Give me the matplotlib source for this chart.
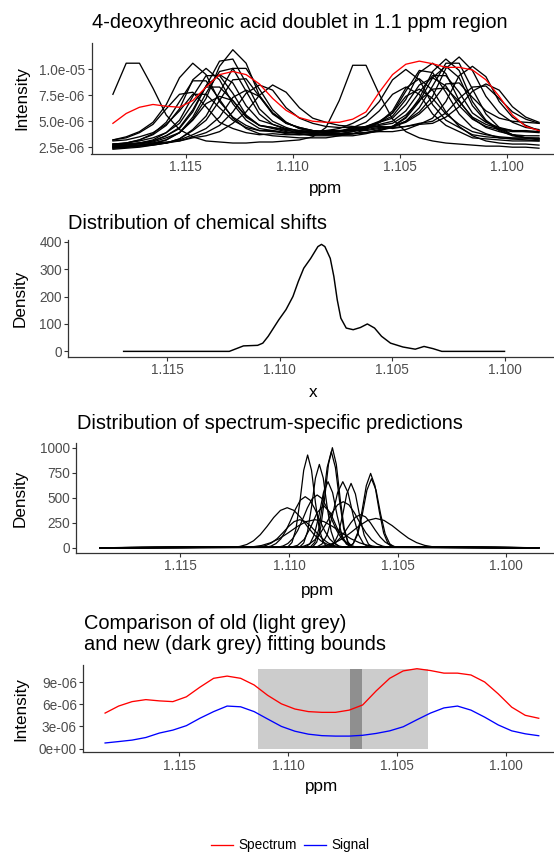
import matplotlib
matplotlib.use("Agg")
import matplotlib.pyplot as plt
from matplotlib.lines import Line2D

plt.rcParams['font.family'] = ['Liberation Sans', 'DejaVu Sans']

# ---------------- data ----------------
# spectral grid (ppm) shared by panel 1 and panel 4
ppm = [1.11840, 1.11778, 1.11716, 1.11653, 1.11591, 1.11529, 1.11467, 1.11405,
       1.11342, 1.11280, 1.11218, 1.11156, 1.11094, 1.11031, 1.10969, 1.10907,
       1.10845, 1.10783, 1.10720, 1.10658, 1.10596, 1.10534, 1.10472, 1.10409,
       1.10347, 1.10285, 1.10223, 1.10161, 1.10098, 1.10036, 1.09974, 1.09912,
       1.09850]
intensity_unit = 1e-6

# red spectrum (x 1e-6)
spectrum = [4.8, 5.75, 6.35, 6.62, 6.45, 6.35, 7.0, 8.3, 9.5, 9.8, 9.5, 8.6, 7.2,
            6.05, 5.35, 5.0, 4.9, 4.9, 5.2, 5.9, 7.8, 9.5, 10.5, 10.8, 10.55, 10.2,
            10.2, 9.95, 9.0, 7.4, 5.6, 4.5, 4.1]
# blue fitted signal (x 1e-6)
signal = [0.76, 0.95, 1.15, 1.5, 2.1, 2.5, 3.1, 4.1, 5.0, 5.75, 5.65, 5.0, 4.0,
          3.0, 2.35, 1.95, 1.75, 1.69, 1.69, 1.8, 2.05, 2.4, 2.95, 3.9, 4.8, 5.5,
          5.75, 5.2, 4.25, 3.2, 2.4, 2.0, 1.74]

# other spectra in the 1.1 ppm region (x 1e-6)
spec_a = [7.6, 10.6, 10.6, 8.2, 5.6, 4.2, 3.5, 3.1, 3.0, 2.9, 2.9, 3.0, 3.0, 3.1, 3.2, 3.5, 4.4, 7.0, 10.4, 10.4, 7.6, 5.2, 4.0, 3.4, 3.1, 2.9, 2.8, 2.7, 2.6, 2.6, 2.5, 2.5, 2.4]
spec_b = [2.5, 2.6, 2.7, 2.9, 3.2, 3.9, 5.2, 7.2, 10.3, 11.9, 10.6, 7.5, 5.8, 4.9, 4.3, 4.0, 3.8, 3.8, 3.8, 3.9, 4.1, 4.4, 5.0, 6.3, 8.4, 10.6, 10.6, 8.1, 5.7, 4.4, 3.7, 3.4, 3.2]
spec_c = [2.7, 2.8, 2.9, 3.1, 3.6, 4.3, 5.9, 8.4, 10.8, 11.0, 8.7, 6.2, 5.0, 4.4, 4.0, 3.8, 3.7, 3.7, 3.8, 3.9, 4.2, 4.5, 5.3, 6.9, 9.2, 10.3, 9.2, 6.5, 5.0, 4.1, 3.6, 3.4, 3.3]
spec_d = [3.2, 3.5, 4.0, 4.9, 6.6, 9.2, 10.6, 9.5, 6.9, 5.4, 4.6, 4.1, 4.1, 3.9, 3.9, 3.9, 4.1, 4.3, 4.8, 5.5, 6.9, 9.0, 10.0, 9.0, 6.6, 5.1, 4.4, 3.7, 3.5, 3.4, 3.3, 3.3, 3.3]
spec_e = [2.8, 2.9, 3.2, 3.7, 4.6, 6.2, 9.0, 10.1, 9.0, 6.7, 5.1, 4.3, 4.1, 3.8, 3.7, 3.7, 3.7, 3.8, 4.0, 4.4, 4.9, 5.8, 7.9, 9.9, 9.7, 7.8, 5.7, 4.4, 3.8, 3.4, 3.3, 3.2, 3.1]
spec_f = [2.5, 2.7, 2.9, 3.2, 3.9, 5.1, 7.4, 9.4, 9.4, 7.7, 5.6, 4.6, 4.3, 4.0, 3.8, 3.7, 3.8, 3.8, 4.0, 4.3, 4.9, 5.5, 7.1, 9.7, 10.6, 9.6, 7.0, 5.3, 4.4, 4.0, 3.7, 3.6, 3.6]
spec_g = [2.6, 2.7, 2.9, 3.1, 3.6, 4.4, 6.1, 8.4, 9.5, 8.7, 6.5, 5.1, 4.7, 4.3, 4.1, 4.0, 4.0, 4.0, 4.2, 4.4, 4.7, 5.0, 6.0, 7.8, 9.4, 9.4, 7.8, 5.8, 4.9, 4.4, 4.1, 4.0, 4.0]
spec_h = [2.3, 2.4, 2.5, 2.7, 2.9, 3.3, 4.2, 5.5, 7.8, 10.1, 10.1, 8.1, 6.1, 4.9, 4.3, 4.1, 3.9, 3.8, 3.8, 3.9, 4.0, 4.0, 4.2, 4.7, 5.3, 6.9, 9.4, 10.3, 9.3, 6.9, 5.4, 4.6, 4.1]
spec_i = [3.2, 3.4, 3.9, 4.7, 6.2, 7.6, 7.8, 6.4, 4.9, 4.3, 3.9, 3.7, 3.8, 3.7, 3.7, 3.8, 3.9, 4.0, 4.4, 4.9, 6.0, 7.6, 8.3, 7.6, 5.7, 4.6, 4.0, 3.4, 3.3, 3.2, 3.1, 3.1, 3.1]
spec_j = [3.1, 3.2, 3.5, 3.9, 4.7, 6.0, 7.6, 7.6, 6.3, 5.1, 4.4, 4.1, 4.0, 3.9, 3.9, 3.9, 3.9, 4.0, 4.2, 4.5, 5.0, 5.8, 7.4, 8.1, 7.2, 5.7, 4.7, 4.0, 3.7, 3.5, 3.4, 3.4, 3.4]
spec_k = [2.6, 2.6, 2.7, 2.8, 2.9, 3.1, 3.5, 3.9, 4.6, 5.9, 7.7, 8.5, 8.0, 6.3, 5.3, 4.8, 4.5, 4.4, 4.4, 4.4, 4.5, 4.4, 4.5, 4.8, 5.0, 5.8, 7.2, 8.3, 8.4, 7.2, 5.9, 5.2, 4.8]
spec_l = [2.8, 2.9, 3.1, 3.4, 3.9, 4.8, 6.7, 8.3, 8.3, 7.0, 5.4, 4.6, 4.4, 4.2, 4.1, 4.0, 4.1, 4.1, 4.3, 4.5, 4.9, 5.3, 6.6, 8.5, 9.2, 8.4, 6.5, 5.2, 4.5, 4.2, 4.0, 4.0, 3.9]
spec_m = [2.4, 2.5, 2.6, 2.7, 2.9, 3.3, 4.1, 5.1, 7.0, 9.0, 9.1, 7.4, 5.8, 4.8, 4.4, 4.1, 4.0, 4.0, 4.1, 4.1, 4.3, 4.5, 5.0, 5.9, 7.4, 10.1, 11.2, 9.9, 7.4, 5.8, 4.9, 4.4, 4.2]
spec_n = [2.6, 2.7, 2.8, 3.0, 3.4, 3.9, 5.1, 6.7, 7.4, 7.0, 5.5, 4.6, 4.4, 4.1, 4.0, 4.0, 4.0, 4.0, 4.2, 4.3, 4.6, 4.8, 5.6, 7.0, 8.1, 8.2, 6.9, 5.4, 4.7, 4.3, 4.1, 4.1, 4.0]
spec_o = [2.5, 2.5, 2.7, 2.8, 2.9, 3.2, 3.7, 4.3, 5.4, 7.3, 8.0, 7.4, 5.7, 4.8, 4.4, 4.1, 4.0, 4.0, 4.1, 4.2, 4.4, 4.5, 4.9, 5.7, 6.9, 8.6, 8.7, 7.3, 6.0, 5.3, 5.0, 4.9, 4.8]
spec_p = [2.7, 2.9, 3.2, 3.8, 4.9, 6.9, 8.9, 8.9, 7.1, 5.3, 4.3, 3.8, 3.6, 3.5, 3.4, 3.4, 3.4, 3.6, 3.8, 4.2, 4.9, 6.0, 8.2, 9.1, 8.0, 5.9, 4.5, 3.6, 3.1, 2.9, 2.8, 2.8, 2.7]
spec_r = [2.8, 2.8, 2.9, 2.9, 3.0, 3.1, 3.4, 3.6, 4.0, 4.8, 5.9, 7.5, 8.5, 7.8, 6.3, 5.3, 4.9, 4.6, 4.5, 4.4, 4.5, 4.3, 4.5, 4.7, 4.8, 5.4, 6.4, 7.9, 8.6, 8.0, 6.4, 5.4, 4.9]
spec_t = [2.4, 2.5, 2.6, 2.8, 3.2, 3.9, 5.4, 7.7, 9.8, 10.1, 7.9, 5.7, 4.7, 4.2, 3.8, 3.6, 3.6, 3.6, 3.6, 3.8, 4.1, 4.5, 5.4, 7.2, 9.8, 11.0, 9.9, 6.9, 5.1, 4.2, 3.7, 3.4, 3.3]
other_spectra = [spec_a, spec_b, spec_c, spec_d, spec_e, spec_f, spec_g, spec_h, spec_i,
                 spec_j, spec_k, spec_l, spec_m, spec_n, spec_o, spec_p, spec_r, spec_t]

# panel 2: density of chemical shifts
shift_ppm = [1.11694, 1.11224, 1.11161, 1.11098, 1.11075, 1.11051, 1.11004, 1.10972,
             1.10941, 1.10917, 1.10893, 1.10862, 1.1083, 1.10814, 1.10799, 1.10775,
             1.10759, 1.10744, 1.10728, 1.10704, 1.10673, 1.10641, 1.1061, 1.10578,
             1.10547, 1.10507, 1.10452, 1.10397, 1.10358, 1.10318, 1.10279, 1.1000]
shift_density = [0, 0, 20, 22, 30, 55, 115, 152, 200, 255, 303, 339, 382, 390, 382,
                 339, 273, 188, 121, 85, 79, 87, 100, 85, 55, 30, 16, 8, 18, 10, 0, 0]

# panel 3: spectrum-specific prediction densities (ppm, density)
pred_range = [1.1187, 1.0985]
s1_ppm = [1.11004, 1.10986, 1.10968, 1.1095, 1.10932, 1.10914, 1.10896, 1.10878, 1.1086, 1.10842, 1.10824]
s1_den = [10, 52, 184, 451, 774, 927, 774, 451, 184, 52, 10]
s2_ppm = [1.1095, 1.10932, 1.10914, 1.10896, 1.10878, 1.1086, 1.10842, 1.10824, 1.10806, 1.10788, 1.1077]
s2_den = [9, 47, 165, 406, 696, 833, 696, 406, 165, 47, 9]
s3_ppm = [1.1089, 1.10872, 1.10854, 1.10836, 1.10818, 1.108, 1.10782, 1.10764, 1.10746, 1.10728, 1.1071]
s3_den = [11, 56, 198, 487, 835, 1000, 835, 487, 198, 56, 11]
s4_ppm = [1.109, 1.10881, 1.10862, 1.10843, 1.10824, 1.10805, 1.10786, 1.10767, 1.10748, 1.10729, 1.1071]
s4_den = [11, 54, 190, 468, 802, 960, 802, 468, 190, 54, 11]
s5_ppm = [1.10925, 1.10904, 1.10883, 1.10862, 1.10841, 1.1082, 1.10799, 1.10778, 1.10757, 1.10736, 1.10715]
s5_den = [7, 37, 131, 321, 551, 660, 551, 321, 131, 37, 7]
s6_ppm = [1.10814, 1.10794, 1.10774, 1.10754, 1.10734, 1.10714, 1.10694, 1.10674, 1.10654, 1.10634, 1.10614]
s6_den = [7, 36, 127, 313, 537, 643, 537, 313, 127, 36, 7]
s7_ppm = [1.10724, 1.10704, 1.10684, 1.10664, 1.10644, 1.10624, 1.10604, 1.10584, 1.10564, 1.10544, 1.10524]
s7_den = [8, 42, 147, 362, 620, 743, 620, 362, 147, 42, 8]
s8_ppm = [1.10725, 1.10704, 1.10683, 1.10662, 1.10641, 1.1062, 1.10599, 1.10578, 1.10557, 1.10536, 1.10515]
s8_den = [8, 39, 137, 336, 576, 690, 576, 336, 137, 39, 8]
b1_ppm = [1.11256, 1.11225, 1.11194, 1.11163, 1.11132, 1.11101, 1.1107, 1.11039, 1.11008, 1.10977, 1.10946, 1.10915, 1.10884, 1.10853, 1.10822, 1.10791, 1.1076]
b1_den = [4, 13, 32, 69, 130, 212, 302, 373, 400, 373, 302, 212, 130, 69, 32, 13, 4]
b2_ppm = [1.11105, 1.110825, 1.1106, 1.110375, 1.11015, 1.109925, 1.1097, 1.109475, 1.10925, 1.109025, 1.1088, 1.108575, 1.10835, 1.108125, 1.1079, 1.107675, 1.10745]
b2_den = [6, 16, 41, 88, 166, 271, 385, 475, 510, 475, 385, 271, 166, 88, 41, 16, 6]
b3_ppm = [1.1105, 1.110275, 1.11005, 1.109825, 1.1096, 1.109375, 1.10915, 1.108925, 1.1087, 1.108475, 1.10825, 1.108025, 1.1078, 1.107575, 1.10735, 1.107125, 1.1069]
b3_den = [6, 17, 42, 91, 171, 280, 398, 491, 527, 491, 398, 280, 171, 91, 42, 17, 6]
b4_ppm = [1.10872, 1.10848, 1.10824, 1.108, 1.10776, 1.10752, 1.10728, 1.10704, 1.1068, 1.10656, 1.10632]
b4_den = [7, 37, 131, 321, 551, 660, 551, 321, 131, 37, 7]
b5_ppm = [1.109, 1.108625, 1.10825, 1.107875, 1.1075, 1.107125, 1.10675, 1.106375, 1.106, 1.105625, 1.10525, 1.104875, 1.1045, 1.104125, 1.10375, 1.103375, 1.103]
b5_den = [3, 9, 23, 51, 95, 156, 221, 273, 293, 273, 221, 156, 95, 51, 23, 9, 3]
b6_ppm = [1.11208, 1.11167, 1.11126, 1.11085, 1.11044, 1.11003, 1.10962, 1.10921, 1.1088, 1.10839, 1.10798, 1.10757, 1.10716, 1.10675, 1.10634, 1.10593, 1.10552]
b6_den = [3, 9, 22, 49, 91, 149, 211, 261, 280, 261, 211, 149, 91, 49, 22, 9, 3]
b7_ppm = [1.10958, 1.10932, 1.10906, 1.1088, 1.10854, 1.10828, 1.10802, 1.10776, 1.1075, 1.10724, 1.10698, 1.10672, 1.10646, 1.1062, 1.10594, 1.10568, 1.10542]
b7_den = [5, 15, 37, 80, 150, 244, 347, 429, 460, 429, 347, 244, 150, 80, 37, 15, 5]
b8_ppm = [1.1099, 1.1096, 1.1093, 1.109, 1.1087, 1.1084, 1.1081, 1.1078, 1.1075, 1.1072, 1.1069]
b8_den = [5, 24, 83, 205, 351, 420, 351, 205, 83, 24, 5]
b9_ppm = [1.11158, 1.11132, 1.11106, 1.1108, 1.11054, 1.11028, 1.11002, 1.10976, 1.1095, 1.10924, 1.10898, 1.10872, 1.10846, 1.1082, 1.10794, 1.10768, 1.10742]
b9_den = [3, 9, 22, 48, 91, 149, 211, 261, 280, 261, 211, 149, 91, 48, 22, 9, 3]
b10_ppm = [1.1085, 1.108275, 1.10805, 1.107825, 1.1076, 1.107375, 1.10715, 1.106925, 1.1067, 1.106475, 1.10625, 1.106025, 1.1058, 1.105575, 1.10535, 1.105125, 1.1049]
b10_den = [4, 11, 26, 57, 107, 175, 249, 308, 330, 308, 249, 175, 107, 57, 26, 11, 4]
pred_curves = [(s1_ppm, s1_den), (s2_ppm, s2_den), (s3_ppm, s3_den), (s4_ppm, s4_den),
               (s5_ppm, s5_den), (s6_ppm, s6_den), (s7_ppm, s7_den), (s8_ppm, s8_den),
               (b1_ppm, b1_den), (b2_ppm, b2_den), (b3_ppm, b3_den), (b4_ppm, b4_den),
               (b5_ppm, b5_den), (b6_ppm, b6_den), (b7_ppm, b7_den), (b8_ppm, b8_den),
               (b9_ppm, b9_den), (b10_ppm, b10_den)]

# panel 4: fitting bounds
old_bounds = [1.11138, 1.10357]
new_bounds = [1.10716, 1.10659]
bounds_top = 10.8  # x 1e-6

x_ticks = [1.115, 1.110, 1.105, 1.100]
x_tick_labels = ['1.115', '1.110', '1.105', '1.100']
p1_yticks = [2.5e-6, 5.0e-6, 7.5e-6, 1.0e-5]
p1_ylabels = ['2.5e-06', '5.0e-06', '7.5e-06', '1.0e-05']
p2_yticks = [0, 100, 200, 300, 400]
p3_yticks = [0, 250, 500, 750, 1000]
p4_yticks = [0, 3e-6, 6e-6, 9e-6]
p4_ylabels = ['0e+00', '3e-06', '6e-06', '9e-06']

# ---------------- layout ----------------
W, H = 554, 852
fig = plt.figure(figsize=(W / 100, H / 100), dpi=100)
fig.patch.set_facecolor('white')
XLIM = (1.1194, 1.0978)
TICK_C = '#4D4D4D'
AX_C = '#333333'
TITLE_FS = 14.4
AXT_FS = 12.3
TICK_FS = 9.8


def make_ax(l, t, r, b, xlim=XLIM):
    ax = fig.add_axes([l / W, 1 - b / H, (r - l) / W, (b - t) / H])
    for s in ('top', 'right'):
        ax.spines[s].set_visible(False)
    for s in ('left', 'bottom'):
        ax.spines[s].set_color(AX_C)
        ax.spines[s].set_linewidth(0.9)
    ax.tick_params(direction='out', length=2.6, width=0.8, color=AX_C,
                   labelcolor=TICK_C, labelsize=TICK_FS, pad=2.0)
    ax.set_xlim(*xlim)
    ax.set_xticks(x_ticks)
    ax.set_xticklabels(x_tick_labels)
    return ax


def ptext(x, y, s, **kw):
    fig.text(x / W, 1 - y / H, s, **kw)


# Panel 1
ax1 = make_ax(91.5, 43.3, 554, 153.5)
for sp in other_spectra:
    ax1.plot(ppm, [v * intensity_unit for v in sp], color='black', lw=0.95)
ax1.plot(ppm, [v * intensity_unit for v in spectrum], color='red', lw=0.95)
ax1.set_ylim(1.89e-6, 1.252e-5)
ax1.set_yticks(p1_yticks)
ax1.set_yticklabels(p1_ylabels)
ptext(91.7, 28.3, '4-deoxythreonic acid doublet in 1.1 ppm region', fontsize=TITLE_FS,
      ha='left', va='baseline')
ptext(21.7, 98.4, 'Intensity', fontsize=AXT_FS, rotation=90, ha='center', va='center')
ptext(326, 188, 'ppm', fontsize=AXT_FS, ha='center', va='center')

# Panel 2
ax2 = make_ax(68.3, 240, 554, 356.7)
ax2.plot(shift_ppm, shift_density, color='black', lw=1.05)
ax2.set_ylim(-19.4, 406)
ax2.set_yticks(p2_yticks)
ptext(68.3, 229.3, 'Distribution of chemical shifts', fontsize=TITLE_FS, ha='left', va='baseline')
ptext(20, 298, 'Density', fontsize=AXT_FS, rotation=90, ha='center', va='center')
ptext(312.7, 392.7, 'x', fontsize=AXT_FS, ha='center', va='center')

# Panel 3
ax3 = make_ax(76, 443.3, 554, 552.7, xlim=(1.1198, 1.0978))
for cx, cy in pred_curves:
    ax3.plot([pred_range[0]] + cx + [pred_range[1]], [0] + cy + [0],
             color='black', lw=0.9)
ax3.set_ylim(-50, 1044)
ax3.set_yticks(p3_yticks)
ptext(76.7, 429.3, 'Distribution of spectrum-specific predictions', fontsize=TITLE_FS,
      ha='left', va='baseline')
ptext(20, 498, 'Density', fontsize=AXT_FS, rotation=90, ha='center', va='center')
ptext(318, 590, 'ppm', fontsize=AXT_FS, ha='center', va='center')

# Panel 4
ax4 = make_ax(83.3, 665, 554, 752.3)
ax4.fill_between(old_bounds, [0, 0], [bounds_top * intensity_unit] * 2,
                 color='#cccccc', lw=0, zorder=1)
ax4.fill_between(new_bounds, [0, 0], [bounds_top * intensity_unit] * 2,
                 color='#8f8f8f', lw=0, zorder=1)
ax4.plot(ppm, [v * intensity_unit for v in spectrum], color='red', lw=0.95, zorder=3)
ax4.plot(ppm, [v * intensity_unit for v in signal], color='blue', lw=0.95, zorder=3)
ax4.set_ylim(-0.5e-6, 1.13e-5)
ax4.set_yticks(p4_yticks)
ax4.set_yticklabels(p4_ylabels)
ptext(84, 629.3, 'Comparison of old (light grey)', fontsize=TITLE_FS, ha='left', va='baseline')
ptext(84, 650.3, 'and new (dark grey) fitting bounds', fontsize=TITLE_FS, ha='left', va='baseline')
ptext(20.7, 708.7, 'Intensity', fontsize=AXT_FS, rotation=90, ha='center', va='center')
ptext(321.7, 787, 'ppm', fontsize=AXT_FS, ha='center', va='center')

# Legend
ly = 1 - 844.5 / H
fig.add_artist(Line2D([211 / W, 233 / W], [ly, ly], color='red', lw=0.95))
fig.add_artist(Line2D([304 / W, 326 / W], [ly, ly], color='blue', lw=0.95))
ptext(238, 845, 'Spectrum', fontsize=9.8, ha='left', va='center', color='black')
ptext(331.7, 845, 'Signal', fontsize=9.8, ha='left', va='center', color='black')

fig.savefig('out.png', dpi=100)
